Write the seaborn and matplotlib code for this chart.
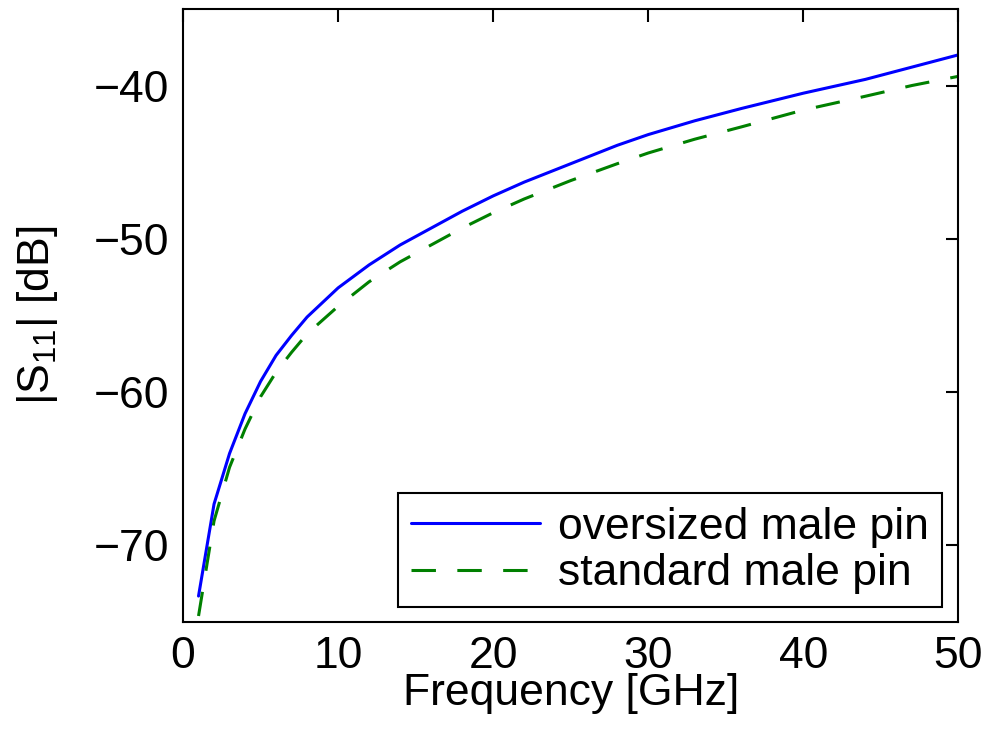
import numpy as np
import matplotlib
matplotlib.use("Agg")
import matplotlib.pyplot as plt
import seaborn as sns

# Frequency points (GHz) and |S11| values (dB)
freq = [1, 2, 3, 4, 5, 6, 7, 8, 10, 12, 14, 16, 18, 20, 22, 25, 28, 30,
        33, 36, 40, 44, 47, 50]
s11_oversized = [-73.3, -67.3, -64.0, -61.4, -59.3, -57.6, -56.3, -55.1,
                 -53.2, -51.7, -50.4, -49.3, -48.2, -47.2, -46.3, -45.1,
                 -43.9, -43.2, -42.3, -41.5, -40.5, -39.6, -38.8, -38.0]
s11_standard = [-74.6, -68.4, -64.9, -62.4, -60.3, -58.7, -57.4, -56.2,
                -54.4, -52.8, -51.5, -50.4, -49.3, -48.3, -47.4, -46.2,
                -45.1, -44.4, -43.5, -42.7, -41.6, -40.7, -40.0, -39.4]
labels = ["oversized male pin", "standard male pin"]
xticks = [0, 10, 20, 30, 40, 50]
yticks = [-70, -60, -50, -40]

sns.set_style("white")
plt.rcParams["font.family"] = ["Liberation Sans", "DejaVu Sans"]
plt.rcParams["mathtext.fontset"] = "custom"
plt.rcParams["mathtext.rm"] = "Liberation Sans"
plt.rcParams["mathtext.it"] = "Liberation Sans:italic"
plt.rcParams["text.color"] = "black"
plt.rcParams["axes.labelcolor"] = "black"
plt.rcParams["xtick.color"] = "black"
plt.rcParams["ytick.color"] = "black"

fig = plt.figure(figsize=(9.84, 7.38), dpi=100)
ax = fig.add_axes([0.186, 0.157, 0.788, 0.831])

sns.lineplot(x=freq, y=s11_oversized, ax=ax, color=(0, 0, 1),
             linewidth=2.2, label=labels[0])
sns.lineplot(x=freq, y=s11_standard, ax=ax, color=(0, 0.5, 0),
             linewidth=2.2, label=labels[1])
ax.lines[1].set_dashes((8, 7))

ax.set_xlim(0, 50)
ax.set_ylim(-75, -35)
ax.set_xticks(xticks)
ax.set_yticks(yticks)
ax.set_yticklabels([f"\u2212{abs(v)}" for v in yticks])

ax.tick_params(direction="in", length=9, width=1.5, labelsize=32,
               top=True, right=True, pad=10)
for sp in ax.spines.values():
    sp.set_linewidth(1.5)
    sp.set_color("black")

ax.set_xlabel("Frequency [GHz]", fontsize=32, labelpad=-3)
ax.set_ylabel(r"|S$_{11}$| [dB]", fontsize=32, labelpad=24)

leg = ax.legend(loc="lower right", bbox_to_anchor=(0.979, 0.024),
                borderaxespad=0, fontsize=32, handlelength=2.9,
                handletextpad=0.4, labelspacing=0.12, borderpad=0.3,
                fancybox=False, framealpha=1, edgecolor="black")
leg.get_frame().set_linewidth(1.5)
leg.get_lines()[1].set_dashes((8, 7))

fig.savefig("out.png", dpi=100)
